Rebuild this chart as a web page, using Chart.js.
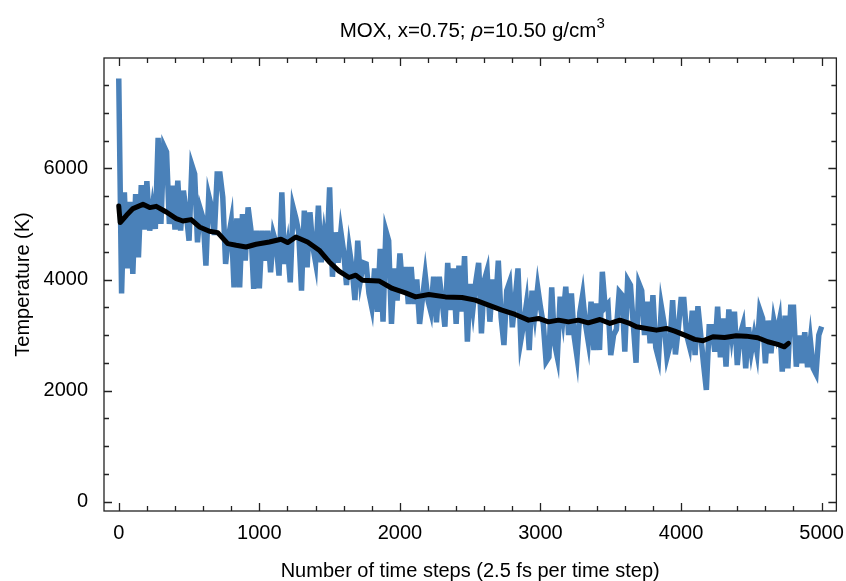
<!DOCTYPE html>
<html>
<head>
<meta charset="utf-8">
<script src="https://cdn.jsdelivr.net/npm/chart.js@4.4.1/dist/chart.umd.min.js"></script>
<style>
  html, body { margin: 0; padding: 0; background: #fff; }
  #wrap { width: 846px; height: 581px; }
</style>
</head>
<body>
<div id="wrap"><canvas id="grafico"></canvas></div>
<script>
// temperatura istantanea, un punto ogni 20 passi (da 0 a 5000)
const sampleEvery = 20;
const blueTemps = [
  7620, 3750, 5570, 4200, 5400, 4100, 5540, 4400, 5700, 4900, 5770, 4880, 5300, 4910, 6550, 5000, 6410, 6300, 5000, 5690, 4900, 5780, 4880, 5600, 5200,
  4700, 6060, 5900, 4670, 5270, 5100, 4250, 5510, 5300, 4800, 5900, 5900, 5480, 4280, 4760, 5050, 3860, 5100, 3860, 5180, 4340, 5300, 4900, 3830, 4880,
  3840, 4880, 4340, 4880, 4130, 4820, 4640, 4070, 5570, 4280, 4600, 3950, 5300, 5100, 4850, 3800, 5240, 4220, 5210, 4600, 4310, 5330, 4310, 4800, 4400,
  5660, 4050, 4850, 4300, 4860, 4500, 3900, 4550, 4200, 3630, 4700, 4000, 4300, 4280, 3750, 3500, 4200, 3420, 4550, 3240, 4880, 4700, 3200, 4200, 3620,
  4470, 3800, 4225, 3560, 4225, 3560, 4000, 3200, 3650, 4080, 3620, 3420, 4050, 3230, 4050, 3620, 3150, 4300, 3450, 4200, 3200, 4250, 3420, 4420, 2880,
  3920, 3480, 3960, 4300, 3030, 3980, 4160, 3240, 4000, 3500, 4340, 3320, 2820, 3800, 3950, 3140, 3650, 4200, 2900, 3200, 3560, 2730, 3800, 3380, 3860,
  3500, 3200, 2520, 2600, 3860, 2850, 2600, 3690, 3300, 3870, 3000, 3750, 2970, 2610, 3400, 3720, 3200, 2880, 3600, 2730, 3570, 2730, 4140, 3500, 3560,
  2640, 3000, 3100, 3780, 3720, 2700, 3990, 3900, 3200, 2500, 3930, 3800, 3000, 3600, 2850, 3720, 2780, 2580, 3510, 3200, 2600, 2800, 3630, 2650, 3100,
  3640, 3640, 3000, 2800, 3440, 2640, 3520, 3000, 2480, 2010, 3150, 3150, 2700, 3510, 2600, 3300, 2430, 3460, 3000, 3420, 2460, 3000, 3180, 2400, 3140,
  2700, 3000, 2700, 3450, 3300, 2490, 3260, 2670, 3260, 3000, 3260, 2340, 3350, 2400, 3500, 3500, 2430, 2990, 2490, 3050, 2420, 2900, 2400, 2300, 3000,
  3150
];

// media mobile (linea nera)
const avgSteps = [0, 10, 55, 101, 172, 220, 267, 338, 409, 456, 515, 574, 645, 704, 775, 835, 906, 977, 1071, 1154, 1201, 1260, 1343, 1426, 1496,
  1567, 1638, 1686, 1733, 1851, 1946, 2040, 2111, 2206, 2324, 2442, 2537, 2631, 2726, 2820, 2915, 2986, 3057, 3128, 3199, 3270, 3340, 3423,
  3494, 3565, 3624, 3683, 3754, 3825, 3896, 3955, 4026, 4097, 4156, 4227, 4310, 4392, 4463, 4546, 4617, 4688, 4735, 4764];
const avgTemps = [5324, 5025, 5157, 5277, 5354, 5295, 5318, 5216, 5097, 5054, 5079, 4946, 4869, 4845, 4647, 4617, 4586, 4635, 4676, 4725, 4665, 4766, 4676, 4527, 4320,
  4150, 4036, 4077, 3987, 3975, 3838, 3759, 3687, 3730, 3687, 3676, 3628, 3538, 3448, 3370, 3268, 3298, 3237, 3268, 3237, 3268, 3220, 3280,
  3209, 3268, 3220, 3148, 3119, 3088, 3119, 3070, 2998, 2921, 2896, 2968, 2957, 2986, 2980, 2950, 2878, 2831, 2788, 2849];

const xTicks = [0, 1000, 2000, 3000, 4000, 5000];
const yTicks = [0, 2000, 4000, 6000];
const xMinor = 200;
const yMinor = 500;

const FONT = '"Liberation Sans", Arial, sans-serif';
const INK = '#222';

// riquadro con tacche verso l'interno su tutti i lati (stile matplotlib)
const frameTicks = {
  id: 'frameTicks',
  afterDatasetsDraw(chart) {
    const { ctx, chartArea: a, scales } = chart;
    const xs = scales.x, ys = scales.y;
    ctx.save();
    ctx.strokeStyle = INK;
    ctx.lineWidth = 1.3;
    ctx.strokeRect(a.left, a.top, a.right - a.left, a.bottom - a.top);
    ctx.beginPath();
    const startX = Math.ceil(xs.min / xMinor) * xMinor;
    for (let v = startX; v <= xs.max; v += xMinor) {
      const px = Math.round(xs.getPixelForValue(v)) + 0.5;
      const len = xTicks.includes(v) ? 8 : 5;
      ctx.moveTo(px, a.bottom); ctx.lineTo(px, a.bottom - len);
      ctx.moveTo(px, a.top); ctx.lineTo(px, a.top + len);
    }
    const startY = Math.ceil(ys.min / yMinor) * yMinor;
    for (let v = startY; v <= ys.max; v += yMinor) {
      const py = Math.round(ys.getPixelForValue(v)) + 0.5;
      const len = yTicks.includes(v) ? 8 : 5;
      ctx.moveTo(a.left, py); ctx.lineTo(a.left + len, py);
      ctx.moveTo(a.right, py); ctx.lineTo(a.right - len, py);
    }
    ctx.stroke();
    ctx.restore();
  }
};

// titolo con rho in corsivo e apice
const titolo = {
  id: 'titolo',
  afterDraw(chart) {
    const { ctx, chartArea: a } = chart;
    const parts = [
      { t: 'MOX, x=0.75; ', f: '20.5px ' + FONT, dy: 0 },
      { t: 'ρ', f: 'italic 20.5px ' + FONT, dy: 0 },
      { t: '=10.50 g/cm', f: '20.5px ' + FONT, dy: 0 },
      { t: '3', f: '15px ' + FONT, dy: -9 }
    ];
    ctx.save();
    ctx.fillStyle = '#000';
    ctx.textBaseline = 'alphabetic';
    let total = 0;
    parts.forEach(p => { ctx.font = p.f; p.w = ctx.measureText(p.t).width; total += p.w; });
    let x = (a.left + a.right) / 2 - total / 2 + 2;
    parts.forEach(p => {
      ctx.font = p.f;
      ctx.fillText(p.t, x, 37 + p.dy);
      x += p.w;
    });
    ctx.restore();
  }
};

const blueData = blueTemps.map((t, i) => ({ x: i * sampleEvery, y: t }));
const avgData = avgSteps.map((s, i) => ({ x: s, y: avgTemps[i] }));

new Chart(document.getElementById('grafico'), {
  type: 'line',
  data: {
    datasets: [
      {
        data: avgData,
        borderColor: '#000',
        borderWidth: 5,
        pointRadius: 0,
        tension: 0,
        borderJoinStyle: 'round',
        borderCapStyle: 'round',
        order: 1
      },
      {
        data: blueData,
        borderColor: '#4a81b9',
        borderWidth: 5.5,
        pointRadius: 0,
        tension: 0,
        order: 2
      }
    ]
  },
  options: {
    responsive: true,
    maintainAspectRatio: false,
    animation: false,
    events: [],
    layout: { padding: { top: 58, right: 7, left: 0, bottom: 0 } },
    plugins: {
      legend: { display: false },
      tooltip: { enabled: false },
      title: { display: false }
    },
    scales: {
      x: {
        type: 'linear',
        min: -105,
        max: 5105,
        grid: { display: false },
        border: { display: false },
        afterBuildTicks: (s) => { s.ticks = xTicks.map(v => ({ value: v })); },
        afterFit: (s) => { s.height = 70; },
        ticks: {
          color: '#000', padding: 2, maxRotation: 0,
          font: { family: FONT, size: 20 },
          callback: (v) => String(v)
        },
        title: {
          display: true,
          text: 'Number of time steps (2.5 fs per time step)',
          color: '#000',
          padding: { top: 0, bottom: -2 },
          font: { family: FONT, size: 20 }
        }
      },
      y: {
        type: 'linear',
        min: -170,
        max: 7990,
        grid: { display: false },
        border: { display: false },
        afterBuildTicks: (s) => { s.ticks = yTicks.map(v => ({ value: v })); },
        afterFit: (s) => { s.width = 104; },
        ticks: {
          color: '#000', padding: 8,
          font: { family: FONT, size: 20 },
          callback: (v) => String(v)
        },
        title: {
          display: true,
          text: 'Temperature (K)',
          color: '#000',
          padding: { top: 11, bottom: 0 },
          font: { family: FONT, size: 20 }
        }
      }
    }
  },
  plugins: [frameTicks, titolo]
});
</script>
</body>
</html>
